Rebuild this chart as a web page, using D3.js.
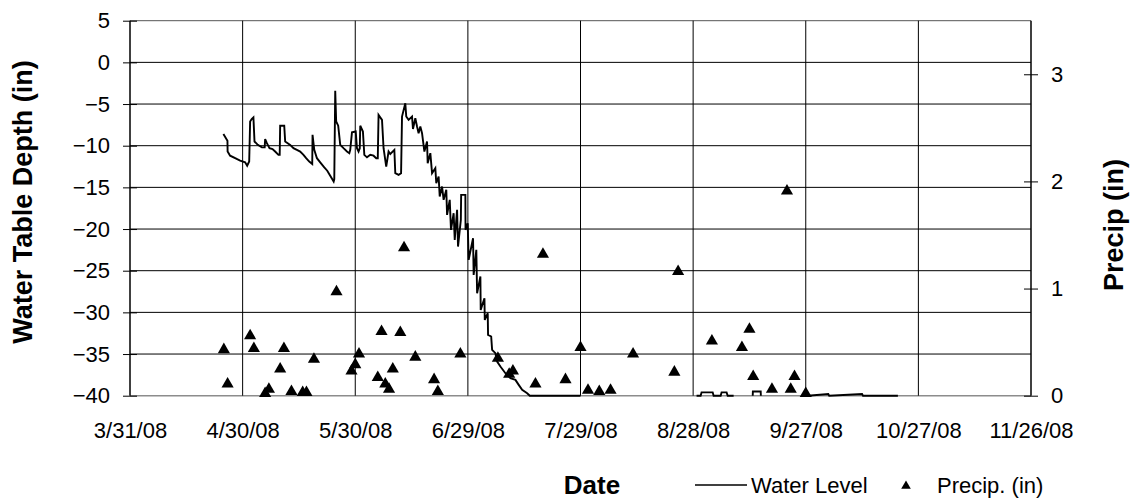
<!DOCTYPE html>
<html>
<head>
<meta charset="utf-8">
<script src="https://cdn.jsdelivr.net/npm/d3@7"></script>
<style>
  body { margin: 0; background: #fff; }
  svg text { font-family: "Liberation Sans", Arial, sans-serif; fill: #000; }
</style>
</head>
<body>
<div id="chart"></div>
<script>
// water level (hourly logger), null = no data
var levelTime = ["4/24/08 21","4/25/08 23","4/26/08 00","4/26/08 16","4/28/08 00","4/29/08 08","4/30/08 16","5/1/08 05","5/1/08 18","5/2/08 00","5/2/08 10","5/2/08 21","5/3/08 04","5/4/08 01","5/5/08 03","5/5/08 21","5/6/08 00","5/6/08 11","5/7/08 04","5/7/08 23","5/8/08 16","5/9/08 13","5/9/08 21","5/10/08 00","5/11/08 02","5/11/08 08","5/12/08 16","5/13/08 13","5/14/08 11","5/15/08 08","5/16/08 05","5/16/08 22","5/17/08 18","5/18/08 13","5/18/08 15","5/19/08 02","5/19/08 19","5/20/08 16","5/21/08 18","5/22/08 13","5/23/08 08","5/24/08 06","5/24/08 10","5/24/08 16","5/24/08 22","5/25/08 11","5/26/08 00","5/26/08 21","5/27/08 19","5/28/08 10","5/28/08 16","5/29/08 03","5/30/08 03","5/30/08 11","5/30/08 21","5/31/08 05","5/31/08 08","6/1/08 01","6/1/08 10","6/2/08 03","6/3/08 00","6/3/08 21","6/4/08 14","6/5/08 00","6/5/08 05","6/6/08 03","6/6/08 13","6/7/08 06","6/7/08 21","6/8/08 08","6/9/08 10","6/9/08 16","6/10/08 13","6/11/08 05","6/11/08 11","6/12/08 08","6/12/08 14","6/13/08 05","6/14/08 03","6/14/08 09","6/15/08 00","6/15/08 11","6/15/08 21","6/16/08 08","6/16/08 19","6/17/08 10","6/18/08 03","6/18/08 07","6/19/08 00","6/19/08 11","6/20/08 08","6/20/08 14","6/21/08 05","6/21/08 12","6/22/08 03","6/22/08 13","6/23/08 06","6/23/08 11","6/24/08 04","6/24/08 12","6/25/08 05","6/25/08 12","6/26/08 03","6/26/08 09","6/27/08 03","6/27/08 05","6/28/08 08","6/28/08 09","6/28/08 23","6/29/08 05","6/30/08 09","6/30/08 13","7/1/08 06","7/1/08 11","7/2/08 08","7/2/08 10","7/3/08 10","7/3/08 12","7/4/08 07","7/4/08 09","7/5/08 05","7/5/08 11","7/6/08 08","7/6/08 19","7/7/08 16","7/9/08 00","7/10/08 08","7/11/08 16","7/12/08 13","7/13/08 11","7/14/08 19","7/15/08 12","7/29/08 00","7/29/08 12","8/28/08 22","8/30/08 00","8/30/08 06","9/2/08 05","9/2/08 11","9/4/08 08","9/4/08 14","9/5/08 22","9/6/08 05","9/7/08 19","9/9/08 00","9/12/08 21","9/12/08 22","9/15/08 00","9/15/08 01","9/16/08 00","9/27/08 13","10/3/08 00","10/3/08 06","10/12/08 00","10/12/08 06","10/21/08 13"];
var levelDepth = [-8.6,-9.4,-10.7,-11.2,-11.5,-11.8,-12.0,-12.4,-11.9,-7.1,-6.8,-6.6,-9.5,-9.9,-10.2,-10.2,-9.2,-9.7,-10.3,-10.4,-10.7,-11.1,-11.1,-7.6,-7.6,-9.5,-9.9,-10.3,-10.5,-10.7,-11.1,-11.5,-11.9,-12.2,-8.7,-10.5,-11.5,-12.0,-12.6,-13.0,-13.6,-14.3,-14.0,-3.4,-7.1,-7.6,-9.9,-10.3,-10.7,-10.9,-10.5,-8.4,-8.3,-10.3,-10.7,-10.3,-7.6,-8.3,-11.1,-11.4,-11.1,-11.2,-11.5,-11.5,-6.3,-6.9,-10.3,-12.5,-10.7,-11.0,-10.5,-13.3,-13.5,-13.3,-6.5,-4.9,-6.5,-6.9,-6.5,-8.0,-6.7,-7.7,-8.5,-7.7,-8.5,-10.7,-9.5,-12.1,-10.9,-13.3,-12.7,-14.5,-13.7,-16.1,-14.9,-16.5,-15.3,-18.3,-16.5,-20.1,-18.1,-21.3,-17.7,-22.1,-18.9,-15.9,-15.9,-20.1,-19.3,-23.7,-21.1,-25.5,-22.5,-27.7,-25.7,-29.7,-28.3,-30.9,-30.1,-32.7,-32.9,-34.5,-34.9,-35.9,-36.5,-37.3,-37.9,-38.1,-38.7,-39.3,-39.7,-40,-40,null,-40,-40,-39.6,-39.6,-40,-40,-39.6,-39.6,-40,-40,null,-40,-39.5,-39.5,-40,null,-40,-39.8,-40,-39.8,-40,-40];

// daily precipitation
var precipDate = ["4/25/08","4/26/08","5/2/08","5/3/08","5/6/08","5/7/08","5/10/08","5/11/08","5/13/08","5/16/08","5/17/08","5/19/08","5/25/08","5/29/08","5/30/08","5/31/08","6/5/08","6/6/08","6/7/08","6/8/08","6/9/08","6/11/08","6/12/08","6/15/08","6/20/08","6/21/08","6/27/08","7/7/08","7/10/08","7/11/08","7/17/08","7/19/08","7/25/08","7/29/08","7/31/08","8/3/08","8/6/08","8/12/08","8/23/08","8/24/08","9/2/08","9/10/08","9/12/08","9/13/08","9/18/08","9/22/08","9/23/08","9/24/08","9/27/08"];
var precipIn = [0.43,0.11,0.56,0.44,0.02,0.06,0.25,0.44,0.04,0.03,0.03,0.34,0.97,0.23,0.29,0.39,0.17,0.60,0.11,0.06,0.25,0.59,1.38,0.36,0.15,0.04,0.39,0.35,0.20,0.23,0.11,1.32,0.15,0.45,0.05,0.04,0.05,0.39,0.22,1.16,0.51,0.45,0.62,0.18,0.06,1.91,0.06,0.18,0.02];

// axis ticks
var dateTicks = ["3/31/08","4/30/08","5/30/08","6/29/08","7/29/08","8/28/08","9/27/08","10/27/08","11/26/08"];
var depthTicks = [5,0,-5,-10,-15,-20,-25,-30,-35,-40];
var precipTicks = [0,1,2,3];

var width = 1134, height = 501;
var margin = {top: 20.7, right: 103, bottom: 105.3, left: 130};
var plotW = width - margin.left - margin.right;
var plotH = height - margin.top - margin.bottom;

var parseTime = d3.timeParse("%m/%d/%y %H");
var parseDay = d3.timeParse("%m/%d/%y");

var x = d3.scaleTime()
    .domain([parseDay(dateTicks[0]), parseDay(dateTicks[dateTicks.length - 1])])
    .range([0, plotW]);
var y = d3.scaleLinear().domain([-40, 5]).range([plotH, 0]);
var yP = d3.scaleLinear().domain([0, 3.5]).range([plotH, 0]);

var svg = d3.select("#chart").append("svg")
    .attr("width", width)
    .attr("height", height);
var g = svg.append("g")
    .attr("transform", "translate(" + margin.left + "," + margin.top + ")");

// horizontal grid lines
g.selectAll(".hgrid")
    .data(depthTicks)
    .enter().append("line")
    .attr("x1", 0).attr("x2", plotW)
    .attr("y1", function(d) { return y(d); })
    .attr("y2", function(d) { return y(d); })
    .attr("stroke", function(d) { return d == -40 ? "#8c8c8c" : (d == 5 ? "#555" : "#000"); })
    .attr("stroke-width", function(d) { return d == -40 ? 1.5 : 1; });

// vertical grid lines
g.selectAll(".vgrid")
    .data(dateTicks.slice(1, -1))
    .enter().append("line")
    .attr("x1", function(d) { return x(parseDay(d)); })
    .attr("x2", function(d) { return x(parseDay(d)); })
    .attr("y1", 0).attr("y2", plotH)
    .attr("stroke", "#000")
    .attr("stroke-width", 1);

// x axis (labels only)
var xAxis = g.append("g")
    .attr("transform", "translate(0," + plotH + ")")
    .call(d3.axisBottom(x)
        .tickValues(dateTicks.map(parseDay))
        .tickFormat(d3.timeFormat("%-m/%-d/%y"))
        .tickSize(0));
xAxis.select(".domain").remove();
xAxis.selectAll("text")
    .attr("y", 0)
    .attr("dy", "42px")
    .style("font-size", "22px");

// left axis
var yAxis = g.append("g")
    .call(d3.axisLeft(y).tickValues(depthTicks).tickSize(7));
yAxis.select(".domain").attr("stroke", "#000").attr("stroke-width", 1.5)
    .attr("d", "M0," + y(5) + "V" + plotH);
yAxis.selectAll(".tick line").attr("x1", -7).attr("x2", 7).attr("stroke", "#000");
yAxis.selectAll(".tick text")
    .attr("x", -20)
    .style("font-size", "22px");

// right axis
var pAxis = g.append("g")
    .attr("transform", "translate(" + plotW + ",0)")
    .call(d3.axisRight(yP).tickValues(precipTicks).tickFormat(d3.format("d")).tickSize(7));
pAxis.select(".domain").attr("stroke", "#000").attr("stroke-width", 1.5)
    .attr("d", "M0,0V" + plotH);
pAxis.selectAll(".tick line").attr("x1", -7).attr("x2", 7).attr("stroke", "#000");
pAxis.selectAll(".tick text")
    .attr("x", 20)
    .style("font-size", "22px");

// water level line
var levelData = levelTime.map(function(t, i) {
    return {date: parseTime(t), value: levelDepth[i]};
});
var line = d3.line()
    .defined(function(d) { return d.value !== null; })
    .x(function(d) { return x(d.date); })
    .y(function(d) { return y(d.value); });
g.append("path")
    .datum(levelData)
    .attr("fill", "none")
    .attr("stroke", "#000")
    .attr("stroke-width", 1.9)
    .attr("stroke-linejoin", "miter")
    .attr("d", line);

// precipitation triangles
var tri = d3.symbol().type(d3.symbolTriangle).size(64);
g.selectAll(".precip")
    .data(precipDate)
    .enter().append("path")
    .attr("d", tri)
    .attr("fill", "#000")
    .attr("transform", function(d, i) {
        return "translate(" + x(parseDay(d)) + "," + yP(precipIn[i]) + ")";
    });

// axis titles
svg.append("text")
    .attr("transform", "translate(23," + 202 + ") rotate(-90)")
    .attr("dy", "0.35em")
    .style("text-anchor", "middle")
    .style("font-size", "27px")
    .style("font-weight", "bold")
    .text("Water Table Depth (in)");

svg.append("text")
    .attr("transform", "translate(1114," + 225 + ") rotate(-90)")
    .attr("dy", "0.35em")
    .style("text-anchor", "middle")
    .style("font-size", "27px")
    .style("font-weight", "bold")
    .text("Precip (in)");

svg.append("text")
    .attr("x", 592)
    .attr("y", 494)
    .style("text-anchor", "middle")
    .style("font-size", "26px")
    .style("font-weight", "bold")
    .text("Date");

// legend
var legend = svg.append("g").attr("transform", "translate(0,485)");
legend.append("line")
    .attr("x1", 695).attr("x2", 747)
    .attr("y1", 0).attr("y2", 0)
    .attr("stroke", "#000").attr("stroke-width", 1.5);
legend.append("text")
    .attr("x", 751).attr("y", 0).attr("dy", "0.35em")
    .style("font-size", "22px")
    .text("Water Level");
legend.append("path")
    .attr("d", d3.symbol().type(d3.symbolTriangle).size(40))
    .attr("transform", "translate(906,1)")
    .attr("fill", "#000");
legend.append("text")
    .attr("x", 937).attr("y", 0).attr("dy", "0.35em")
    .style("font-size", "22px")
    .text("Precip. (in)");
</script>
</body>
</html>
